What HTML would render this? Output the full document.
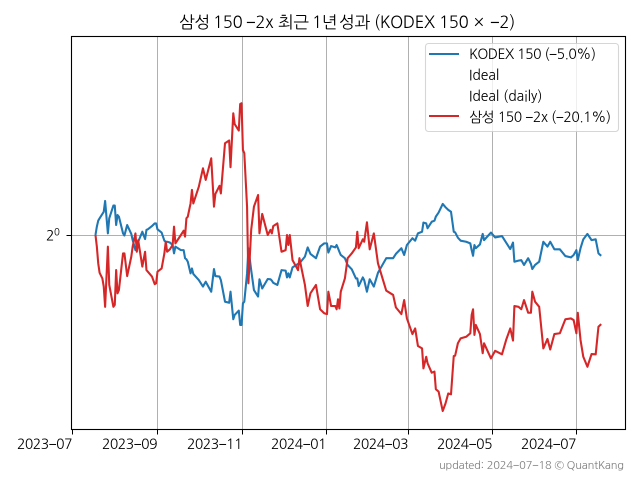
<!DOCTYPE html>
<html lang="ko">
<head>
<meta charset="utf-8">
<title>삼성 150 -2x 최근 1년 성과</title>
<style>
html,body{margin:0;padding:0;background:#fff;}
svg{display:block;}
text{font-family:"NanumGothic","Liberation Sans","Noto Sans CJK KR",sans-serif;fill:#000;}
</style>
</head>
<body>
<svg id="chart" xmlns="http://www.w3.org/2000/svg" width="640" height="480" viewBox="0 0 640 480">
  <rect x="0" y="0" width="640" height="480" fill="#fff"/>
  <text y="28" font-size="16.67" letter-spacing="-0.3"><tspan x="179">삼성</tspan><tspan x="213">150</tspan><tspan x="246">−2x</tspan><tspan x="278">최근</tspan><tspan x="312">1년</tspan><tspan x="339">성과</tspan><tspan x="374">(KODEX</tspan><tspan x="439">150</tspan><tspan x="474">×</tspan><tspan x="490">−2)</tspan></text>
  <g id="grid"></g>
  <g id="series"></g>
  <rect x="71.5" y="36.5" width="554" height="393" fill="none" stroke="#000" stroke-width="1.1"/>
  <g id="axes"></g>
  <g>
    <rect x="425.5" y="43.5" width="193" height="88" rx="3" fill="#fff" fill-opacity="0.8" stroke="#ccc" stroke-opacity="0.8" stroke-width="1.1"/>
    <line x1="429" y1="54" x2="459" y2="54" stroke="#1f77b4" stroke-width="2.08"/>
    <text x="469" y="59" font-size="13.9" textLength="127" lengthAdjust="spacing">KODEX 150 (−5.0%)</text>
    <text x="469" y="80" font-size="13.9">Ideal</text>
    <text x="469" y="101" font-size="13.9">Ideal (daily)</text>
    <line x1="429" y1="116" x2="459" y2="116" stroke="#d62728" stroke-width="2.08"/>
    <text x="469" y="122" font-size="13.9" textLength="142" lengthAdjust="spacing">삼성 150 −2x (−20.1%)</text>
  </g>
  <text x="439" y="469" font-size="11.1" textLength="185" lengthAdjust="spacing" style="fill:#808080">updated: 2024−07−18 © QuantKang</text>
</svg>
<script>
const dayOffsets = [17,18,19,20,22,23,24,26,27,30,31,32,33,34,37,38,40,43,44,46,47,48,51,53,54,55,58,60,61,62,65,67,68,69,71,73,74,75,79,81,82,83,84,86,87,88,92,95,97,101,103,104,107,108,111,114,115,117,118,121,122,123,124,125,127,128,130,132,135,136,138,142,144,145,146,149,152,155,156,157,158,160,164,165,169,171,173,177,180,183,185,186,188,191,192,193,194,195,198,200,203,206,207,208,211,212,214,216,219,222,228,233,235,239,241,243,247,249,251,254,255,257,258,261,263,264,266,269,271,273,275,277,278,280,282,286,289,290,291,292,293,296,298,299,304,307,312,315,318,320,321,324,326,328,331,333,334,336,339,342,345,347,350,354,358,362,364,366,367,369,371,374,377,380,382,384];

const kodexLog2 = [0,.031,.053,.062,.078,.086,.126,.006,.062,.109,.109,.037,.074,.068,.006,-.002,.037,.004,-.019,-.056,-.037,-.025,.012,-.015,.019,.021,.033,.043,.043,.021,.009,-.021,-.025,-.025,-.028,-.037,-.068,-.043,-.056,-.056,-.086,-.090,-.099,-.142,-.124,-.144,-.167,-.191,-.173,-.210,-.126,-.152,-.154,-.167,-.247,-.251,-.210,-.312,-.296,-.280,-.333,-.333,-.253,-.247,-.142,-.049,-.130,-.204,-.228,-.164,-.198,-.163,-.164,-.169,-.177,-.185,-.130,-.132,-.157,-.142,-.157,-.120,-.107,-.105,-.080,-.046,-.070,-.086,-.043,-.031,-.031,-.065,-.041,-.046,-.037,-.049,-.062,-.074,-.086,-.111,-.127,-.161,-.161,-.189,-.157,-.167,-.210,-.164,-.191,-.140,-.086,-.086,-.070,-.049,-.074,-.037,-.012,-.021,.006,.012,.046,.043,.025,.049,.053,.068,.083,.115,.103,.093,.086,.012,.010,-.010,-.021,-.025,-.031,-.056,-.077,-.037,-.049,-.035,.004,-.019,.009,-.009,-.004,-.028,-.052,-.028,-.099,-.095,-.093,-.111,-.086,-.107,-.126,-.111,-.099,-.025,-.043,-.025,-.053,-.053,-.078,-.083,-.074,-.056,-.093,-.049,-.016,.004,-.019,-.016,-.068,-.077];

const samsungLog2 = [0,-.043,-.105,-.140,-.161,-.191,-.266,-.043,-.185,-.266,-.259,-.130,-.216,-.204,-.068,-.068,-.152,-.080,-.043,.006,-.062,-.019,-.117,-.062,-.130,-.136,-.154,-.182,-.179,-.136,-.124,-.068,-.025,-.062,-.053,-.037,.031,-.031,0,.016,-.006,.062,.068,.117,.167,.117,.179,.247,.204,.284,.105,.152,.182,.154,.340,.350,.251,.451,.411,.387,.485,.488,.315,.303,.105,-.179,.019,.105,.148,.006,.078,0,.019,.006,.033,.043,-.062,-.056,0,-.037,0,-.093,-.130,-.086,-.185,-.263,-.216,-.185,-.275,-.290,-.293,-.210,-.263,-.263,-.275,-.238,-.272,-.210,-.161,-.086,-.068,-.046,.012,-.049,-.016,-.025,.047,-.053,.006,-.105,-.206,-.222,-.268,-.293,-.241,-.309,-.367,-.346,-.411,-.420,-.494,-.451,-.475,-.510,-.506,-.571,-.580,-.652,-.624,-.587,-.590,-.448,-.447,-.401,-.383,-.377,-.364,-.296,-.275,-.370,-.333,-.367,-.438,-.401,-.457,-.429,-.442,-.389,-.346,-.391,-.263,-.266,-.275,-.241,-.288,-.288,-.210,-.247,-.266,-.420,-.385,-.424,-.367,-.364,-.312,-.309,-.315,-.364,-.288,-.389,-.451,-.488,-.441,-.442,-.340,-.330];

const xTickDays = [0,62,123,184,244,305,366];
const xTickLabels = ["2023−07","2023−09","2023−11","2024−01","2024−03","2024−05","2024−07"];
const yTickExponents = [0];

function xScale(day){ return 72.05 + day * 1.378; }
function yScale(exponent){ return 235 - exponent * 270; }

const NS = "http://www.w3.org/2000/svg";
const gridGroup = document.getElementById("grid");
const axesGroup = document.getElementById("axes");
const seriesGroup = document.getElementById("series");

function make(tag, attrs, parent){
  const el = document.createElementNS(NS, tag);
  for (const k in attrs) el.setAttribute(k, attrs[k]);
  parent.appendChild(el);
  return el;
}

xTickDays.forEach(function(day, i){
  const x = Math.round(xScale(day)) + 0.5;
  if (i > 0) {
    const g = make("line", {x1:x, y1:36.5, x2:x, y2:429.5, stroke:"#b0b0b0", "stroke-width":1}, gridGroup);
    
    
  }
  const t = make("line", {x1:x, y1:429.5, x2:x, y2:434.5, stroke:"#000", "stroke-width":1}, axesGroup);
  
  
  const lab = make("text", {x:x - 55.5, y:449, "font-size":13.9, textLength:55.5, lengthAdjust:"spacing"}, axesGroup);
  lab.textContent = xTickLabels[i];
  
  
});

yTickExponents.forEach(function(exponent){
  const y = yScale(exponent) + 0.5;
  const g = make("line", {x1:71.5, y1:y, x2:625.5, y2:y, stroke:"#b0b0b0", "stroke-width":1}, gridGroup);
  
  
  const t = make("line", {x1:66.5, y1:y, x2:71.5, y2:y, stroke:"#000", "stroke-width":1}, axesGroup);
  
  
  const base = make("text", {x:46, y:y + 5, "font-size":13.9}, axesGroup);
  base.textContent = "2";
  
  
  const sup = make("text", {x:54, y:y, "font-size":9.7}, axesGroup);
  sup.textContent = String(exponent);
  
  
});

function linePoints(values){
  return values.map(function(v, i){
    return xScale(dayOffsets[i]).toFixed(2) + "," + yScale(v).toFixed(2);
  }).join(" ");
}

const kodexLine = make("polyline", {points:linePoints(kodexLog2), fill:"none", stroke:"#1f77b4", "stroke-width":2.08, "stroke-linejoin":"round"}, seriesGroup);



const samsungLine = make("polyline", {points:linePoints(samsungLog2), fill:"none", stroke:"#d62728", "stroke-width":2.08, "stroke-linejoin":"round"}, seriesGroup);


</script>
</body>
</html>
